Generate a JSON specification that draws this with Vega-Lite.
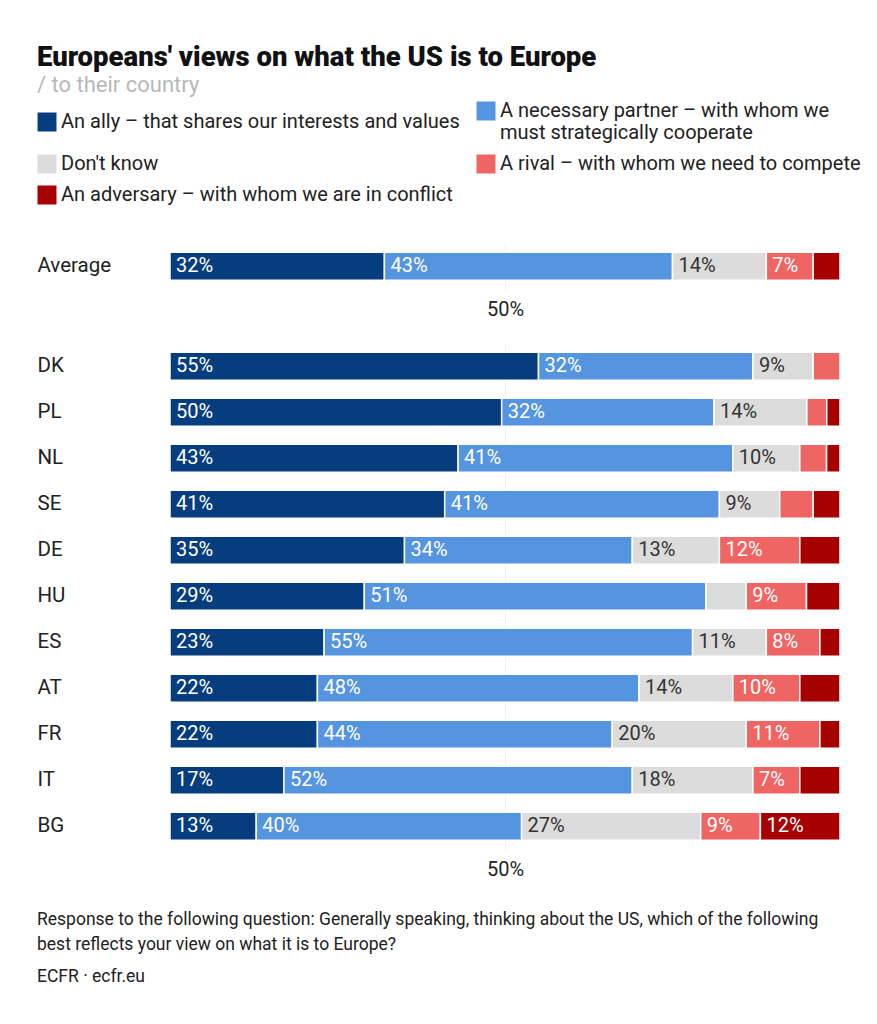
{
  "$schema": "https://vega.github.io/schema/vega-lite/v6.json",
  "background": "white",
  "padding": {"left": 37, "right": 30, "top": 43, "bottom": 20},
  "config": {
    "font": "Roboto",
    "view": {"stroke": null},
    "concat": {"spacing": 23}
  },
  "title": {
    "text": "Europeans' views on what the US is to Europe",
    "subtitle": "/ to their country",
    "anchor": "start",
    "frame": "bounds",
    "fontSize": 27.5,
    "fontWeight": 900,
    "color": "#111111",
    "subtitleFontSize": 22,
    "subtitleColor": "#b8b8b8",
    "subtitlePadding": 4,
    "offset": 5
  },
  "datasets": {
    "avg": [
      {"country": "Average", "response": "An ally – that shares our interests and values", "value": 0.32},
      {"country": "Average", "response": "A necessary partner – with whom we must strategically cooperate", "value": 0.43},
      {"country": "Average", "response": "Don't know", "value": 0.14},
      {"country": "Average", "response": "A rival – with whom we need to compete", "value": 0.07},
      {"country": "Average", "response": "An adversary – with whom we are in conflict", "value": 0.04}
    ],
    "countries": [
      {"country": "DK", "response": "An ally – that shares our interests and values", "value": 0.55},
      {"country": "DK", "response": "A necessary partner – with whom we must strategically cooperate", "value": 0.32},
      {"country": "DK", "response": "Don't know", "value": 0.09},
      {"country": "DK", "response": "A rival – with whom we need to compete", "value": 0.04},
      {"country": "PL", "response": "An ally – that shares our interests and values", "value": 0.50},
      {"country": "PL", "response": "A necessary partner – with whom we must strategically cooperate", "value": 0.32},
      {"country": "PL", "response": "Don't know", "value": 0.14},
      {"country": "PL", "response": "A rival – with whom we need to compete", "value": 0.03},
      {"country": "PL", "response": "An adversary – with whom we are in conflict", "value": 0.02},
      {"country": "NL", "response": "An ally – that shares our interests and values", "value": 0.43},
      {"country": "NL", "response": "A necessary partner – with whom we must strategically cooperate", "value": 0.41},
      {"country": "NL", "response": "Don't know", "value": 0.10},
      {"country": "NL", "response": "A rival – with whom we need to compete", "value": 0.04},
      {"country": "NL", "response": "An adversary – with whom we are in conflict", "value": 0.02},
      {"country": "SE", "response": "An ally – that shares our interests and values", "value": 0.41},
      {"country": "SE", "response": "A necessary partner – with whom we must strategically cooperate", "value": 0.41},
      {"country": "SE", "response": "Don't know", "value": 0.09},
      {"country": "SE", "response": "A rival – with whom we need to compete", "value": 0.05},
      {"country": "SE", "response": "An adversary – with whom we are in conflict", "value": 0.04},
      {"country": "DE", "response": "An ally – that shares our interests and values", "value": 0.35},
      {"country": "DE", "response": "A necessary partner – with whom we must strategically cooperate", "value": 0.34},
      {"country": "DE", "response": "Don't know", "value": 0.13},
      {"country": "DE", "response": "A rival – with whom we need to compete", "value": 0.12},
      {"country": "DE", "response": "An adversary – with whom we are in conflict", "value": 0.06},
      {"country": "HU", "response": "An ally – that shares our interests and values", "value": 0.29},
      {"country": "HU", "response": "A necessary partner – with whom we must strategically cooperate", "value": 0.51},
      {"country": "HU", "response": "Don't know", "value": 0.06},
      {"country": "HU", "response": "A rival – with whom we need to compete", "value": 0.09},
      {"country": "HU", "response": "An adversary – with whom we are in conflict", "value": 0.05},
      {"country": "ES", "response": "An ally – that shares our interests and values", "value": 0.23},
      {"country": "ES", "response": "A necessary partner – with whom we must strategically cooperate", "value": 0.55},
      {"country": "ES", "response": "Don't know", "value": 0.11},
      {"country": "ES", "response": "A rival – with whom we need to compete", "value": 0.08},
      {"country": "ES", "response": "An adversary – with whom we are in conflict", "value": 0.03},
      {"country": "AT", "response": "An ally – that shares our interests and values", "value": 0.22},
      {"country": "AT", "response": "A necessary partner – with whom we must strategically cooperate", "value": 0.48},
      {"country": "AT", "response": "Don't know", "value": 0.14},
      {"country": "AT", "response": "A rival – with whom we need to compete", "value": 0.10},
      {"country": "AT", "response": "An adversary – with whom we are in conflict", "value": 0.06},
      {"country": "FR", "response": "An ally – that shares our interests and values", "value": 0.22},
      {"country": "FR", "response": "A necessary partner – with whom we must strategically cooperate", "value": 0.44},
      {"country": "FR", "response": "Don't know", "value": 0.20},
      {"country": "FR", "response": "A rival – with whom we need to compete", "value": 0.11},
      {"country": "FR", "response": "An adversary – with whom we are in conflict", "value": 0.03},
      {"country": "IT", "response": "An ally – that shares our interests and values", "value": 0.17},
      {"country": "IT", "response": "A necessary partner – with whom we must strategically cooperate", "value": 0.52},
      {"country": "IT", "response": "Don't know", "value": 0.18},
      {"country": "IT", "response": "A rival – with whom we need to compete", "value": 0.07},
      {"country": "IT", "response": "An adversary – with whom we are in conflict", "value": 0.06},
      {"country": "BG", "response": "An ally – that shares our interests and values", "value": 0.13},
      {"country": "BG", "response": "A necessary partner – with whom we must strategically cooperate", "value": 0.40},
      {"country": "BG", "response": "Don't know", "value": 0.27},
      {"country": "BG", "response": "A rival – with whom we need to compete", "value": 0.09},
      {"country": "BG", "response": "An adversary – with whom we are in conflict", "value": 0.12}
    ]
  },
  "vconcat": [
    {
      "data": {"name": "avg"},
      "width": 670,
      "height": {"step": 46},
      "transform": [
        {"stack": "value", "groupby": ["country"], "offset": "normalize", "as": ["x0", "x1"]}
      ],
      "encoding": {
        "y": {
          "field": "country", "type": "nominal", "sort": null,
          "scale": {"paddingInner": 0.39, "paddingOuter": 0.2},
          "axis": {"title": null, "labelAlign": "left", "labelPadding": 133, "ticks": false, "tickSize": 0, "domain": false, "labelFontSize": 20.5, "labelColor": "#222222"}
        }
      },
      "layer": [
        {
          "mark": {"type": "bar", "stroke": "white", "strokeWidth": 1.5},
          "encoding": {
            "x": {
              "field": "x0", "type": "quantitative", "scale": {"domain": [0, 1]},
              "axis": {"title": null, "values": [0.5], "format": ".0%", "domain": false, "ticks": false, "tickSize": 0, "labelFontSize": 20, "labelColor": "#222222", "labelPadding": 10, "grid": true, "gridColor": "#f0f0f0"}
            },
            "x2": {"field": "x1"},
            "color": {
              "field": "response", "type": "nominal",
              "scale": {
                "domain": ["An ally – that shares our interests and values", "A necessary partner – with whom we must strategically cooperate", "Don't know", "A rival – with whom we need to compete", "An adversary – with whom we are in conflict"],
                "range": ["#063d7e", "#5595df", "#dcdcdc", "#ef6563", "#a70000"]
              },
              "legend": {
                "title": null, "orient": "none", "legendX": -133, "legendY": -142,
                "direction": "horizontal", "columns": 2,
                "labelFontSize": 20, "labelColor": "#222222", "labelLimit": 700,
                "symbolType": "square", "symbolSize": 360, "symbolStrokeWidth": 0,
                "rowPadding": 11, "columnPadding": 16,
                "labelExpr": "datum.label === 'A necessary partner – with whom we must strategically cooperate' ? ['A necessary partner – with whom we', 'must strategically cooperate'] : datum.label"
              }
            }
          }
        },
        {
          "transform": [{"filter": "datum.value >= 0.07"}],
          "mark": {"type": "text", "align": "left", "baseline": "middle", "dx": 6, "fontSize": 20},
          "encoding": {
            "x": {"field": "x0", "type": "quantitative"},
            "text": {"field": "value", "type": "quantitative", "format": ".0%"},
            "color": {"condition": {"test": "datum.response === \"Don't know\"", "value": "#333333"}, "value": "white"}
          }
        }
      ]
    },
    {
      "data": {"name": "countries"},
      "width": 670,
      "height": {"step": 46},
      "title": {
        "text": ["Response to the following question: Generally speaking, thinking about the US, which of the following", "best reflects your view on what it is to Europe?"],
        "subtitle": "ECFR · ecfr.eu",
        "orient": "bottom", "anchor": "start", "frame": "bounds",
        "fontSize": 17.5, "fontWeight": "normal", "color": "#222222", "lineHeight": 25,
        "subtitleFontSize": 17.5, "subtitleColor": "#222222", "subtitlePadding": 14,
        "offset": 32
      },
      "transform": [
        {"stack": "value", "groupby": ["country"], "offset": "normalize", "as": ["x0", "x1"]}
      ],
      "encoding": {
        "y": {
          "field": "country", "type": "nominal", "sort": null,
          "scale": {"paddingInner": 0.39, "paddingOuter": 0.2},
          "axis": {"title": null, "labelAlign": "left", "labelPadding": 133, "ticks": false, "tickSize": 0, "domain": false, "labelFontSize": 20.5, "labelColor": "#222222"}
        }
      },
      "layer": [
        {
          "mark": {"type": "bar", "stroke": "white", "strokeWidth": 1.5},
          "encoding": {
            "x": {
              "field": "x0", "type": "quantitative", "scale": {"domain": [0, 1]},
              "axis": {"title": null, "values": [0.5], "format": ".0%", "domain": false, "ticks": false, "tickSize": 0, "labelFontSize": 20, "labelColor": "#222222", "labelPadding": 10, "grid": true, "gridColor": "#f0f0f0"}
            },
            "x2": {"field": "x1"},
            "color": {
              "field": "response", "type": "nominal",
              "scale": {
                "domain": ["An ally – that shares our interests and values", "A necessary partner – with whom we must strategically cooperate", "Don't know", "A rival – with whom we need to compete", "An adversary – with whom we are in conflict"],
                "range": ["#063d7e", "#5595df", "#dcdcdc", "#ef6563", "#a70000"]
              },
              "legend": {
                "title": null, "orient": "none", "legendX": -133, "legendY": -142,
                "direction": "horizontal", "columns": 2,
                "labelFontSize": 20, "labelColor": "#222222", "labelLimit": 700,
                "symbolType": "square", "symbolSize": 360, "symbolStrokeWidth": 0,
                "rowPadding": 11, "columnPadding": 16,
                "labelExpr": "datum.label === 'A necessary partner – with whom we must strategically cooperate' ? ['A necessary partner – with whom we', 'must strategically cooperate'] : datum.label"
              }
            }
          }
        },
        {
          "transform": [{"filter": "datum.value >= 0.07"}],
          "mark": {"type": "text", "align": "left", "baseline": "middle", "dx": 6, "fontSize": 20},
          "encoding": {
            "x": {"field": "x0", "type": "quantitative"},
            "text": {"field": "value", "type": "quantitative", "format": ".0%"},
            "color": {"condition": {"test": "datum.response === \"Don't know\"", "value": "#333333"}, "value": "white"}
          }
        }
      ]
    }
  ],
  "resolve": {"scale": {"color": "shared"}}
}
